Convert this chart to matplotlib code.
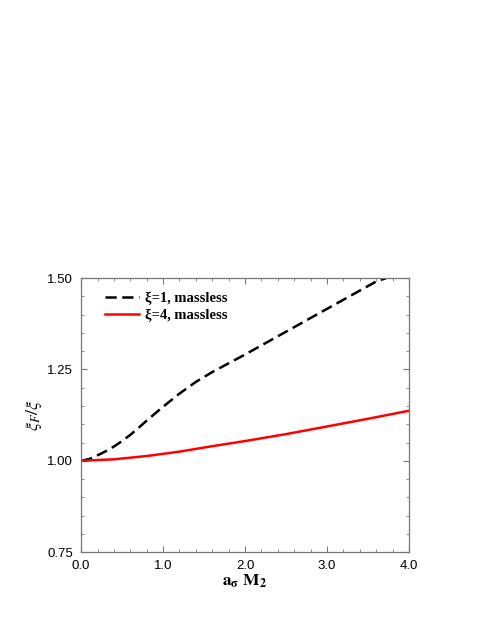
import numpy as np
from matplotlib import pyplot as plt
from matplotlib.ticker import MultipleLocator

plt.rcParams['mathtext.fontset'] = 'stix'

# xi=1, massless (black dashed)
x1 = [0.0, 0.1, 0.2, 0.3, 0.4, 0.5, 0.6, 0.7, 0.8, 0.9, 1.0, 1.2, 1.4, 1.6, 1.8, 2.0, 2.4, 2.8, 3.2, 3.6, 3.72]
y1 = [1.000, 1.005, 1.015, 1.026, 1.039, 1.054, 1.071, 1.090, 1.110, 1.129, 1.148, 1.184, 1.216, 1.243,
      1.267, 1.291, 1.341, 1.391, 1.441, 1.491, 1.500]

# xi=4, massless (red solid)
x4 = [0.0, 0.4, 0.8, 1.2, 1.6, 2.0, 2.5, 3.0, 3.5, 4.0]
y4 = [1.000, 1.004, 1.013, 1.025, 1.040, 1.054, 1.073, 1.094, 1.115, 1.137]

labels = ['ξ=1, massless', 'ξ=4, massless']

fig = plt.figure(figsize=(4.8, 6.21), dpi=100)
ax = fig.add_axes([0.169, 0.111, 0.683, 0.441])

ax.plot(x1, y1, color='black', lw=1.8, dashes=(4.5, 2.2), label=labels[0])
ax.plot(x4, y4, color='red', lw=1.8, label=labels[1])

ax.set_xlim(0, 4)
ax.set_ylim(0.75, 1.5)
ax.xaxis.set_major_locator(MultipleLocator(1.0))
ax.xaxis.set_minor_locator(MultipleLocator(0.2))
ax.yaxis.set_major_locator(MultipleLocator(0.25))
ax.yaxis.set_minor_locator(MultipleLocator(0.05))
ax.xaxis.set_major_formatter(plt.FormatStrFormatter('%.1f'))
ax.yaxis.set_major_formatter(plt.FormatStrFormatter('%.2f'))

for s in ax.spines.values():
    s.set_color('#777777')
    s.set_linewidth(0.9)
ax.tick_params(which='both', direction='in', top=True, right=True, color='#777777')
ax.tick_params(which='major', length=4, labelsize=9.5)
ax.tick_params(which='minor', length=2)
ax.tick_params(axis='x', which='major', pad=6)
ax.tick_params(axis='y', which='major', pad=6)
for t in ax.get_xticklabels() + ax.get_yticklabels():
    t.set_family('Liberation Sans')

ax.set_xlabel(r'$\mathbf{a_{\sigma}\ M_{2}}$', fontsize=12.5, labelpad=0)
ax.set_ylabel(r'$\xi_F/\xi$', fontsize=13, labelpad=2)

leg = ax.legend(loc='upper left', bbox_to_anchor=(0.031, 1.0), frameon=False,
                handlelength=2.3, handletextpad=0.45, borderaxespad=0.55, labelspacing=0.27,
                prop={'family': 'Liberation Serif', 'weight': 'bold', 'size': 10.5})

fig.savefig('out.png', dpi=100)
